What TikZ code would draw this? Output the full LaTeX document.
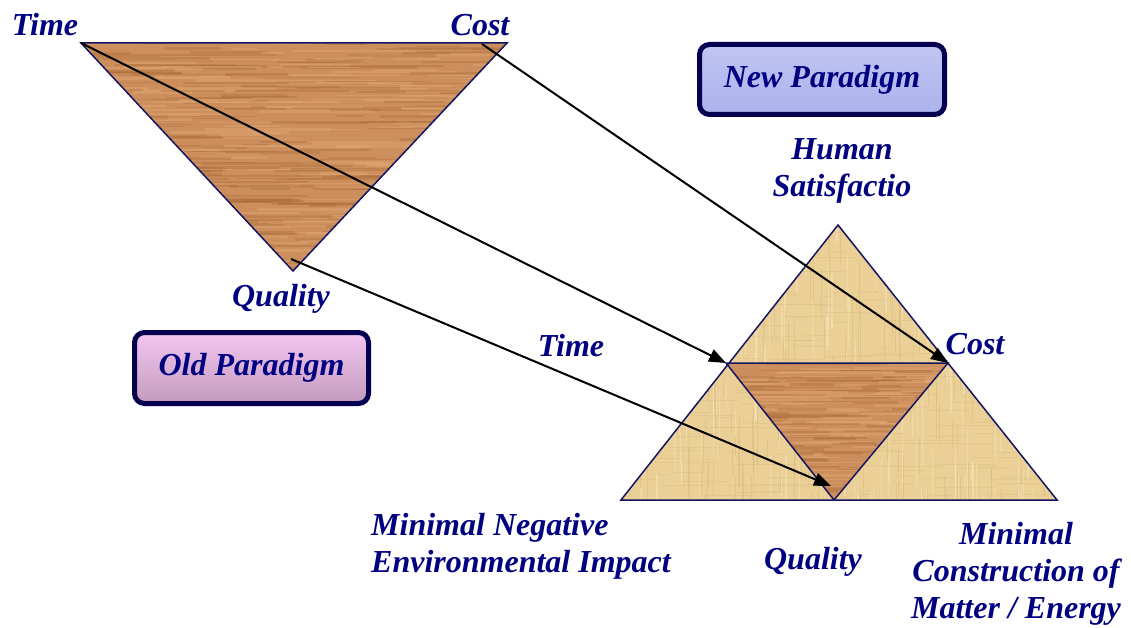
\documentclass[tikz,border=0pt]{standalone}
\usepackage{fontspec}
\setmainfont{Liberation Serif}
\usetikzlibrary{arrows.meta}
\definecolor{labelblue}{RGB}{0,0,128}
\definecolor{edgeblue}{RGB}{20,20,100}
\definecolor{woodbase}{RGB}{204,142,92}
\definecolor{wooddark}{RGB}{165,105,55}
\definecolor{woodlight}{RGB}{224,170,118}
\definecolor{tanbase}{RGB}{234,208,150}
\definecolor{tandark}{RGB}{205,178,118}
\definecolor{tanlight}{RGB}{247,228,186}
\definecolor{boxedge}{RGB}{5,0,80}
\definecolor{oldtop}{RGB}{243,198,240}
\definecolor{oldbot}{RGB}{195,155,190}
\definecolor{newtop}{RGB}{192,197,243}
\definecolor{newbot}{RGB}{172,178,236}
\tikzset{
 lbl/.style={text=labelblue, font=\fontsize{32}{37}\selectfont\bfseries\itshape, inner sep=0pt, align=center},
 paradigm/.style={lbl, draw=boxedge, line width=5pt, rounded corners=10pt},
 tri/.style={draw=edgeblue, line width=1.5pt, line join=miter},
 conn/.style={-{Triangle[length=17pt,width=13pt]}, line width=2pt, black}
}
% wood texture: #1,#2,#3 corners; #4 xmin, #5 ymin, #6 width, #7 height, #8 count
\newcommand\woodtri[8]{%
 \begin{scope}
 \clip (#1) -- (#2) -- (#3) -- cycle;
 \fill[woodbase] (#4,#5) rectangle ++(#6,#7);
 \foreach \i in {1,...,#8} {
  \pgfmathsetmacro\yy{#5+rnd*#7}
  \pgfmathsetmacro\xx{#4-40+rnd*(#6+40)}
  \pgfmathsetmacro\ll{20+rnd*110}
  \pgfmathsetmacro\ww{0.8+rnd*2.2}
  \draw[wooddark, opacity=0.35, line width=\ww pt] (\xx,\yy) -- ++(\ll,0);
  \pgfmathsetmacro\yy{#5+rnd*#7}
  \pgfmathsetmacro\xx{#4-40+rnd*(#6+40)}
  \pgfmathsetmacro\ll{20+rnd*110}
  \draw[woodlight, opacity=0.4, line width=\ww pt] (\xx,\yy) -- ++(\ll,0);
 }
 \end{scope}}
\begin{document}
\begin{tikzpicture}[x=1pt,y=-1pt]
\useasboundingbox (0,0) rectangle (1131,628);
\pgfmathsetseed{17}
% old triangle
\coordinate (oT) at (81,43);
\coordinate (oC) at (507,43);
\coordinate (oQ) at (293,271);
\woodtri{oT}{oC}{oQ}{81}{43}{426}{228}{260}
\draw[tri] (oT) -- (oC) -- (oQ) -- cycle;
% new triangle
\coordinate (nA) at (838,225);
\coordinate (nL) at (621,500);
\coordinate (nR) at (1057,500);
\coordinate (iL) at (726,363);
\coordinate (iR) at (948,363);
\coordinate (iB) at (834,500);
\begin{scope}
 \clip (nA) -- (nL) -- (nR) -- cycle;
 \fill[tanbase] (621,225) rectangle (1057,500);
 \foreach \i in {1,...,220} {
  \pgfmathsetmacro\xx{621+rnd*436}
  \pgfmathsetmacro\yy{200+rnd*300}
  \pgfmathsetmacro\ll{10+rnd*60}
  \draw[tanlight, opacity=0.55, line width=1.2pt] (\xx,\yy) -- ++(0,\ll);
  \pgfmathsetmacro\xx{621+rnd*436}
  \pgfmathsetmacro\yy{200+rnd*300}
  \draw[tandark, opacity=0.35, line width=1pt] (\xx,\yy) -- ++(0,\ll);
  \pgfmathsetmacro\xx{600+rnd*436}
  \pgfmathsetmacro\yy{225+rnd*275}
  \draw[tandark, opacity=0.25, line width=1pt] (\xx,\yy) -- ++(\ll,0);
 }
\end{scope}
\woodtri{iL}{iR}{iB}{726}{363}{222}{137}{110}
\draw[tri] (nA) -- (nL) -- (nR) -- cycle;
\draw[tri] (iL) -- (iR) -- (iB) -- cycle;
% arrows
\coordinate (s1) at (81,43);
\coordinate (s2) at (482,44);
\coordinate (s3) at (291,259);
\coordinate (e3) at (831,486);
\draw[conn] (s1) -- (iL);
\draw[conn] (s2) -- (iR);
\draw[conn] (s3) -- (e3);
% labels
\node[lbl] (tTime) at (45,25) {Time};
\node[lbl] (tCost) at (480,25) {Cost};
\node[lbl] (tQual) at (281,299) {Quality};
\node[lbl] (mTime) at (571,346) {Time};
\node[lbl] (mCost) at (975,344) {Cost};
\node[lbl] (hum) at (842,171) {Human\\Satisfactio};
\node[lbl, align=left, anchor=west] (env) at (371,546) {Minimal Negative\\Environmental Impact};
\node[lbl] (bQual) at (813,562) {Quality};
\node[lbl] (mat) at (1016,574) {Minimal\\Construction of\\Matter / Energy};
\node[paradigm, top color=oldtop, bottom color=oldbot, minimum width=234pt, minimum height=71pt] (old) at (251.5,368) {Old Paradigm};
\node[paradigm, top color=newtop, bottom color=newbot, minimum width=245pt, minimum height=70pt] (new) at (822,79.5) {New Paradigm};
\end{tikzpicture}
\end{document}
